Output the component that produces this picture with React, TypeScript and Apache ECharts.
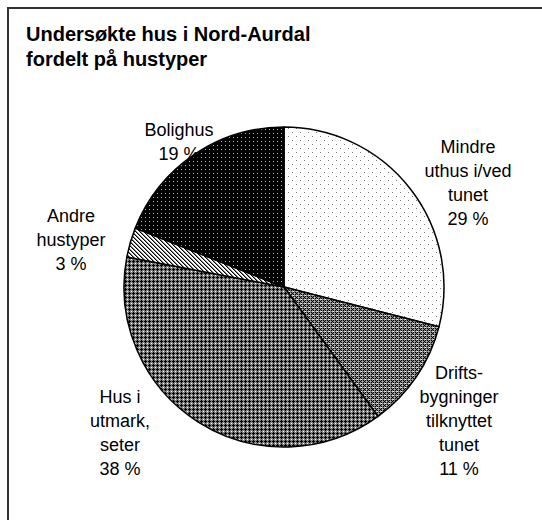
import React, { useEffect, useRef } from 'react';
import * as echarts from 'echarts';

const categories = [
  'Mindre\nuthus i/ved\ntunet',
  'Drifts-\nbygninger\ntilknyttet\ntunet',
  'Hus i\nutmark,\nseter',
  'Andre\nhustyper',
  'Bolighus',
];
const values = [29, 11, 38, 3, 19];
const titleText = 'Undersøkte hus i Nord-Aurdal\nfordelt på hustyper';

// label block centres (layout only)
const labelPos: number[][] = [
  [468, 183],
  [459, 421],
  [120, 433],
  [71, 240],
  [179, 142],
];

const palette: Record<string, string> = {
  '.': '#ffffff',
  G: '#808080',
  L: '#c0c0c0',
  K: '#000000',
  D: '#404040',
};

const tiles: string[][] = [
  ['G.......', '........', '........', '........', '....G...', '........', '........', '........'],
  ['GKGK', 'KGLG', 'GKGK', 'L.GG'],
  ['GKGG', 'KKKG', 'GKGG', 'GGG.'],
  ['KG..', '.KG.', '..KG', 'G..K'],
  ['KKKK', 'KLKK', 'KKKK', 'KKKK'],
];

function makeTile(rows: string[]) {
  const h = rows.length;
  const w = rows[0].length;
  const c = document.createElement('canvas');
  c.width = w;
  c.height = h;
  const ctx = c.getContext('2d')!;
  for (let y = 0; y < h; y++) {
    for (let x = 0; x < w; x++) {
      ctx.fillStyle = palette[rows[y][x]];
      ctx.fillRect(x, y, 1, 1);
    }
  }
  return { image: c.toDataURL(), repeat: 'repeat', imageWidth: w, imageHeight: h } as any;
}

export default function App() {
  const ref = useRef<HTMLDivElement>(null);
  useEffect(() => {
    if (!ref.current) return;
    const chart = echarts.init(ref.current, null, { renderer: 'svg' });
    const font = 'Liberation Sans, Arial, sans-serif';
    chart.setOption({
      animation: false,
      title: {
        text: titleText,
        left: 26,
        top: 21,
        padding: 0,
        textStyle: { fontSize: 20, fontWeight: 'bold', lineHeight: 25, color: '#000', fontFamily: font },
      },
      graphic: [
        {
          type: 'rect',
          shape: { x: 8, y: 8, width: 700, height: 700 },
          style: { fill: 'none', stroke: '#333', lineWidth: 2 },
          silent: true,
        },
      ],
      series: [
        {
          type: 'pie',
          center: [284, 287],
          radius: 160,
          startAngle: 90,
          clockwise: true,
          avoidLabelOverlap: false,
          silent: true,
          emphasis: { disabled: true },
          itemStyle: { borderColor: '#000', borderWidth: 1.5 },
          label: {
            show: true,
            position: 'outside',
            formatter: (p: any) => `${p.name}\n${p.value} %`,
            fontSize: 18,
            lineHeight: 24,
            color: '#000',
            fontFamily: font,
            align: 'center',
          },
          labelLine: { show: false },
          labelLayout: (params: any) => ({
            x: labelPos[params.dataIndex][0],
            y: labelPos[params.dataIndex][1],
            align: 'center',
            verticalAlign: 'middle',
          }),
          data: categories.map((name, i) => ({
            name,
            value: values[i],
            itemStyle: { color: makeTile(tiles[i]) },
          })),
        },
      ],
    });
    return () => chart.dispose();
  }, []);
  return (
    <div
      ref={ref}
      style={{ position: 'fixed', left: 0, top: 0, width: 542, height: 520, background: '#fff' }}
    />
  );
}
